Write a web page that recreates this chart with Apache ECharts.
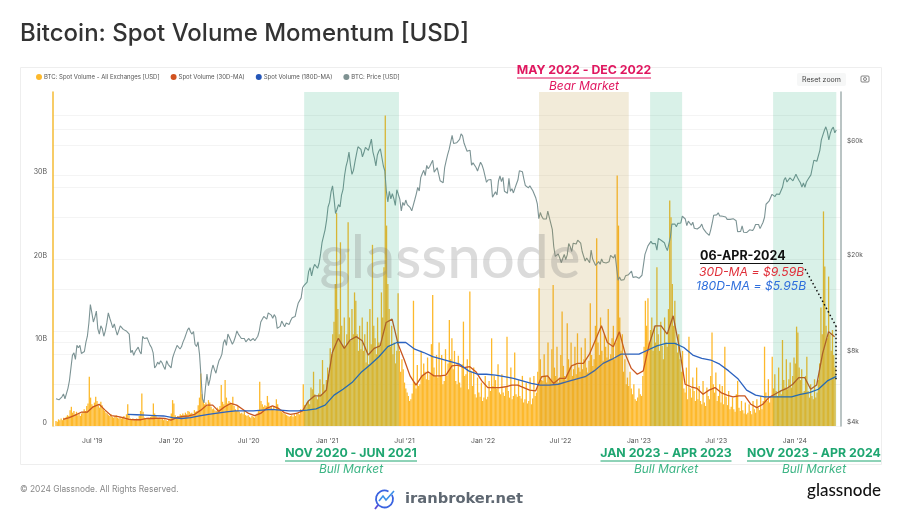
<!DOCTYPE html>
<html>
<head>
<meta charset="utf-8">
<title>Bitcoin: Spot Volume Momentum [USD]</title>
<script src="https://cdn.jsdelivr.net/npm/echarts@6/dist/echarts.min.js"></script>
<style>
  html, body { margin: 0; padding: 0; background: #fff; }
  #chart { width: 900px; height: 518px; }
</style>
</head>
<body>
<div id="chart"></div>
<script>
// every 3 days from 2019-04-07, in billions of USD
const spotVolume = [
  .6,.5,.8,.7,.9,.7,1.0,.9,1.1,1.3,1.2,1.9,2.3,1.6,1.8,1.4,1.7,1.3,1.5,1.2,
  1.5,1.7,2.0,1.8,2.4,2.7,5.9,3.4,2.6,2.4,2.8,3.5,3.0,2.5,2.2,2.9,2.5,2.0,1.8,1.6,
  1.5,1.3,1.2,1.4,1.1,1.0,1.2,1.3,1.0,.9,1.1,.9,1.0,1.2,.8,1.4,2.6,1.3,.9,.8,
  .9,.8,.7,.9,.8,1.2,1.8,3.9,1.7,1.0,.9,.8,1.0,.9,1.1,1.3,2.7,1.5,1.2,1.0,
  .9,1.0,.8,.9,.7,.8,.7,.6,.8,.9,1.5,3.1,2.7,1.3,1.0,1.2,1.1,1.4,1.3,1.5,
  1.3,1.6,1.4,1.8,1.7,1.5,1.6,1.4,1.9,1.7,1.8,2.5,3.4,6.3,3.8,3.0,2.6,2.8,2.4,3.1,
  2.8,2.3,2.0,2.1,1.9,1.8,2.2,2.0,2.4,4.9,2.9,2.6,5.5,3.4,2.7,3.0,2.8,2.6,3.5,2.4,
  2.0,1.8,2.3,1.7,1.5,1.6,1.4,1.9,1.3,1.2,1.3,1.1,1.0,1.2,1.1,1.0,1.3,1.5,1.9,5.3,
  3.0,2.6,2.3,2.5,2.4,3.6,2.8,2.2,2.4,2.0,2.3,1.9,3.2,2.6,2.1,1.8,1.7,1.6,1.5,1.4,
  1.3,1.2,1.1,1.2,1.3,1.1,1.4,1.2,1.6,1.5,1.4,2.0,1.8,5.0,2.5,2.3,2.8,3.0,2.6,4.6,
  4.4,6.5,3.8,3.5,3.2,3.9,5.6,3.8,7.9,5.0,4.3,5.5,7.0,6.2,9.3,8.6,11,12.5,17.0,25.5,
  14,11,22,12,9.6,13,9.5,11,24.4,13,10.2,14,11,16,15,11,9,12,9.2,13,
  9.0,11,7.6,12.5,7.4,14,9.8,21.7,12,10.5,8.6,13,10,9.5,16,13,19,37.2,24,17,
  14,9.5,12,8.6,10,7.5,9,15.9,9,6.5,8.0,6.8,5.2,4.5,4.0,3.6,3.0,3.2,3.9,15.0,
  5.2,4.5,7.3,4.8,5.0,9.0,6.0,7.5,6.5,5.6,8.2,5.5,6.2,9.8,15.7,7.0,6.0,8.5,5.8,10.0,
  6.0,8.5,5.0,5.4,9.2,6.0,7.5,12.7,8.0,10.5,6.8,9,5.4,5.0,8.4,5.2,4.6,7.4,12.5,6.0,
  6.2,8.0,4.4,16.1,6.5,4.8,7.0,3.8,3.4,5.8,4.0,3.5,5.2,3.0,3.4,6.0,3.2,3.5,5.4,4.2,
  10.5,4.8,6.0,5.5,4.5,7.4,4.0,3.8,6.2,4.0,3.6,4.6,10.7,4.2,3.4,7.0,3.2,3.6,8.8,3.8,
  3.5,5.5,3.6,3.3,6.0,2.8,3.2,5.2,2.7,3.0,5.8,2.6,3.3,6.0,3.6,4.0,6.5,16.5,8.0,5.5,
  5.4,8.6,6.0,5.2,10,5.8,5.5,9.2,16.9,7.0,6.0,9.5,5.2,5.8,8.5,13.7,7.2,6.0,5.5,12.3,
  8.0,7.0,10,6.0,6.8,9.5,6.2,11.1,7.0,6.5,9.4,6.8,8.0,10.5,7.0,6.4,7.8,14.7,8.5,7.2,
  8.0,12,22.5,10.0,8.5,13,9.0,7.8,11,9.5,8.2,14,8.0,8.6,10.5,12,8.0,10.0,30.0,24.0,
  13,9,11,6.5,8,5.0,5.8,4.8,6.5,4.5,3.8,5,3.2,3.0,3.4,4.5,3.8,3.6,6.0,9.5,
  15,12,15.3,10,11.5,13,9.0,12,10,19,11,9,12.5,9.6,8,13,10,9.5,14,27,
  25,17,12,15,10,8.8,11,8,6.5,9,4.5,4.0,7,3.2,10.7,4.5,3.4,5.8,4.2,3.0,
  7.0,3.2,4.8,3.0,2.6,5.4,2.8,2.4,4.6,3.6,3.2,6.0,11.2,5.0,4.0,6.4,3.0,3.6,5.0,2.8,
  4.8,2.6,9.5,3.5,2.5,4.2,2.0,2.3,3.4,2.0,1.7,3.8,5.4,2.2,1.8,3.0,1.9,1.5,2.8,1.4,
  1.6,2.6,1.8,1.4,3.0,2.0,1.6,3.2,2.2,1.9,3.6,2.0,3.0,9.5,4.0,3.0,5.6,2.8,3.6,8.3,
  4.5,6.2,4.2,3.6,7.0,4.2,3.8,10.3,5.5,4.6,8.0,4.4,5.6,7.6,4.6,6.0,8.2,7.5,11.9,11.2,
  7.0,5.5,6.8,4.0,4.2,6.0,8.3,4.2,3.4,5.0,3.6,3.2,5.6,3.4,4.0,5.5,7.5,14.2,11,25.7,
  19.1,12,10.5,17.9,11,9,11.5,8.5,7.0
];

// every 14 days from 2019-04-24, in billions of USD
const ma30 = [
  .8,1.0,1.3,1.65,1.65,2.3,2.6,1.9,1.25,1.15,1.0,.8,.75,.75,.9,.9,.95,.9,.7,1.0,
  1.15,1.2,1.4,1.9,2.5,2.5,1.75,2.3,2.7,2.5,2.0,1.5,1.25,1.5,2.1,2.4,2.1,1.6,1.4,1.5,
  1.8,3.0,3.6,3.6,4.3,8.8,10.5,9.3,10.3,10.7,10.2,8.5,9.3,9.6,12.4,12.8,9.8,8.0,6.0,4.9,
  6.0,6.5,6.0,6.0,6.1,7.2,7.3,7.0,7.1,6.5,5.4,4.6,4.6,4.6,4.7,4.9,4.9,4.6,4.3,4.2,
  5.9,6.0,5.1,5.7,5.7,7.2,7.5,7.5,8.6,10.3,12.0,10.0,9.5,11.3,8.6,6.9,6.2,6.6,9.8,12.0,
  12.0,11.0,13.2,9.5,5.0,4.7,4.5,3.8,4.3,4.6,4.0,3.7,3.5,3.6,3.6,2.6,2.2,2.6,3.4,3.8,
  4.2,4.5,5.0,5.8,5.8,4.4,4.9,8.7,11.3,10.7
];

// every 21 days from 2019-09-22, in billions of USD
const ma180 = [
  1.4,1.35,1.3,1.25,1.2,1.0,.9,1.0,1.2,1.4,1.55,1.7,1.8,1.8,1.8,1.9,2.0,1.9,1.8,1.8,
  1.9,2.05,2.5,3.7,4.4,5.2,6.4,7.3,8.3,9.5,10.0,10.0,9.2,8.8,8.3,8.0,7.7,7.4,6.6,6.2,
  6.2,6.1,5.9,5.7,5.4,5.1,4.9,4.9,5.0,5.3,5.6,5.9,6.6,7.5,8.0,8.6,8.6,8.6,9.1,9.6,
  9.9,9.9,9.4,8.5,8.1,7.9,7.4,6.6,5.7,4.3,3.7,3.5,3.5,3.5,3.5,3.8,4.0,4.4,5.4,5.95
];

// every 3.5 days from 2019-04-07, in USD
const btcPrice = [
  5200,5280,5150,5080,5300,5450,5200,5130,5750,6200,7000,7900,8100,7600,8700,8500,8700,8050,7900,8200,
  8950,9500,10800,12900,11900,10900,11400,12100,10200,9700,10500,10200,9500,10000,10800,11900,11300,10800,10300,10700,
  10100,9600,9700,10500,10300,10150,10300,10000,10000,9700,8100,8300,7900,8200,8300,8550,8200,8000,9500,9300,
  9200,9350,9000,8700,8500,8100,7000,7150,7400,7250,7500,7350,7100,6900,7500,7250,7300,7000,7700,8050,
  8200,8700,8700,8400,8600,9000,9300,9700,10100,10300,9900,9700,9950,8800,8600,9000,8000,7900,5200,5000,
  5800,6600,5900,6250,6800,7200,6900,6650,7100,7500,7700,8000,8900,9200,8700,9700,9600,9100,8800,9050,
  9450,10000,9700,9500,9300,9450,9300,9000,9100,9300,9100,9250,9300,9100,9200,9500,10000,10900,11100,11500,
  11700,11200,11900,12100,11650,11300,11700,11400,10250,10200,10450,11000,10800,10400,10800,10700,10650,11050,11350,11400,
  11500,12300,13050,13300,13750,15200,15500,15700,16000,17700,18400,17000,18200,19000,19100,18300,19200,21000,23500,23200,
  26500,29000,33000,34500,38200,40500,35800,31000,32300,33800,33000,37000,39000,44500,48700,51500,56000,49500,45200,47000,
  51000,55000,59000,58200,57500,53500,55800,58700,58700,57000,60000,63500,56200,53000,49100,54500,56600,57800,58300,49000,
  46700,38500,34700,38400,35700,37500,35800,33500,39000,38500,35600,31800,34500,33500,35300,33800,34200,32800,31800,31600,
  35400,37400,39900,38500,43800,45500,47000,44700,49300,47700,48800,49300,51800,46200,46000,48200,47300,42500,43200,41700,
  48200,51500,54700,57500,61500,65800,60900,60500,61300,62000,63300,66800,65500,61000,58700,56500,57300,57000,49400,50500,
  50000,48300,46700,48800,50800,49500,47300,46500,41900,42800,43100,43000,36300,36800,38200,37100,42400,44500,42200,43900,
  38400,39000,37700,43500,38400,39400,37800,39500,41200,42800,46800,47300,46400,43200,40600,40200,39700,40500,39500,38600,
  38500,36000,34000,29500,31300,30100,29400,29700,29400,31700,29900,30200,26600,22500,20500,20300,21000,20200,19300,20100,
  20900,19900,20800,23200,22500,21500,23300,23000,23100,24000,24300,23300,21500,21400,19600,20200,19900,19300,21800,20000,
  19400,18800,18800,19500,19000,20000,19400,19100,19250,19050,19500,20700,20600,20200,20900,18500,16300,16800,16300,16200,
  16400,17000,17100,17200,17100,17800,16750,16800,16850,16600,16600,16800,17100,18900,20900,21000,22700,23000,23700,23200,
  22900,23200,21800,24400,24600,23900,23500,23400,22400,21700,22100,24700,28000,27500,28000,27300,28200,28000,28300,30200,
  30300,29400,27600,28800,29200,27700,28500,26900,26900,26700,26800,27300,28000,26800,27200,25800,25900,25100,26500,28300,
  30500,30100,30600,31200,30300,30500,30200,29900,30000,29300,29300,29300,29000,29500,29300,28900,26000,26100,26100,27500,
  25900,25800,25800,25900,26500,26500,26300,26900,27900,27700,27900,26800,27100,28500,29900,33900,34500,34900,35000,37300,
  37000,36500,37400,37700,37300,38600,39900,42800,43800,42000,41400,43700,43000,42500,42200,45300,43900,42700,41700,40000,
  41600,39900,42000,43000,42600,45000,48300,51800,52100,51300,51700,57000,63000,66000,69000,71500,68300,63000,67200,69900,
  71300,67500,69300
];

const volumeTicks = [0, 10, 20, 30];
const priceLabels = [4000, 8000, 20000, 60000];
const priceLines = [4000, 6000, 8000, 10000, 15000, 20000, 30000, 40000, 60000, 70000, 80000];
const dateLabels = ['2019-07-01', '2020-01-01', '2020-07-01', '2021-01-01', '2021-07-01', '2022-01-01', '2022-07-01', '2023-01-01', '2023-07-01', '2024-01-01'];
const bullBands = [['2020-11-08', '2021-06-18'], ['2023-01-27', '2023-04-12'], ['2023-11-11', '2024-04-07']];
const bearBands = [['2022-05-12', '2022-12-08']];

const DAY = 86400000;
const MONTHS = ['Jan', 'Feb', 'Mar', 'Apr', 'May', 'Jun', 'Jul', 'Aug', 'Sep', 'Oct', 'Nov', 'Dec'];

function ts(s) { return new Date(s + 'T00:00:00Z').getTime(); }
function onDates(start, stepDays, values) {
  return values.map((v, i) => [ts(start) + i * stepDays * DAY, v]);
}

const FONT = 'Inter';
const GREEN = '#1fa671';
const GREEN_SOFT = '#3db585';
const PINK = '#e0175f';

function label(text, x, y, style) {
  return { type: 'text', x: x, y: y, z: 30, silent: true,
    style: Object.assign({ text: text, fontFamily: FONT, verticalAlign: 'middle' }, style) };
}
function rule(x1, x2, y, color, w) {
  return { type: 'line', z: 30, silent: true, shape: { x1: x1, y1: y, x2: x2, y2: y }, style: { stroke: color, lineWidth: w } };
}
function period(range, kind, cx, y, color, soft, w) {
  return [
    label(range, cx, y, { fill: color, fontSize: 12.3, fontWeight: 700, align: 'center' }),
    rule(cx - w / 2, cx + w / 2, y + 7.5, color, 1),
    label(kind, cx, y + 15.5, { fill: soft, fontSize: 12, fontStyle: 'italic', align: 'center' })
  ];
}

const chart = echarts.init(document.getElementById('chart'));

chart.setOption({
  animation: false,
  textStyle: { fontFamily: FONT },
  legend: {
    left: 31, top: 69, icon: 'circle', itemWidth: 6, itemHeight: 6, itemGap: 11,
    textStyle: { fontSize: 6, color: '#555', padding: [0, 0, 0, -3] },
    data: ['BTC: Spot Volume - All Exchanges [USD]', 'Spot Volume (30D-MA)', 'Spot Volume (180D-MA)', 'BTC: Price [USD]']
  },
  grid: { left: 53, right: 59, top: 92, bottom: 92 },
  // dates kept as UTC timestamps on a plain value axis so the half-year labels can be set exactly
  xAxis: {
    type: 'value',
    min: ts('2019-03-31'),
    max: ts('2024-04-18'),
    axisLine: { show: false },
    axisTick: { show: false },
    splitLine: { show: false },
    axisLabel: {
      customValues: dateLabels.map(ts),
      margin: 11, fontSize: 6.8, color: '#555',
      formatter: function (v) {
        const d = new Date(v);
        return MONTHS[d.getUTCMonth()] + " '" + String(d.getUTCFullYear()).slice(2);
      }
    }
  },
  yAxis: [
    {
      type: 'value', min: 0, max: 40, position: 'left',
      axisLine: { show: true, lineStyle: { color: '#f4bb35', width: 1.5 } },
      axisTick: { show: false, customValues: volumeTicks },
      splitLine: { lineStyle: { color: '#f4f4f4', width: 1 } },
      axisLabel: {
        customValues: volumeTicks, margin: 6, fontSize: 7, color: '#555', verticalAlign: 'bottom',
        formatter: function (v) { return v === 0 ? '0' : v + 'B'; }
      }
    },
    {
      type: 'log', min: 4000, max: 100000, position: 'right',
      axisLine: { show: true, lineStyle: { color: '#a3b0b0', width: 1.5 } },
      axisTick: { show: false, customValues: priceLines },
      splitLine: { show: true, lineStyle: { color: '#f4f4f4', width: 1 } },
      axisLabel: {
        customValues: priceLabels, margin: 6, fontSize: 6.5, color: '#555', verticalAlign: 'bottom',
        formatter: function (v) { return '$' + Math.round(v / 1000) + 'k'; }
      }
    }
  ],
  series: [
    {
      name: 'BTC: Spot Volume - All Exchanges [USD]', type: 'bar', yAxisIndex: 0, z: 2,
      barWidth: 1.3, itemStyle: { color: '#fdb92c' },
      data: onDates('2019-04-07', 3, spotVolume)
    },
    {
      name: 'Spot Volume (30D-MA)', type: 'line', yAxisIndex: 0, z: 4, showSymbol: false,
      lineStyle: { color: '#c9551f', width: 1.3 }, itemStyle: { color: '#d1521f' },
      data: onDates('2019-04-24', 14, ma30)
    },
    {
      name: 'Spot Volume (180D-MA)', type: 'line', yAxisIndex: 0, z: 4, showSymbol: false,
      lineStyle: { color: '#2b62c0', width: 1.3 }, itemStyle: { color: '#2456b8' },
      data: onDates('2019-09-22', 21, ma180)
    },
    {
      name: 'BTC: Price [USD]', type: 'line', yAxisIndex: 1, z: 4, showSymbol: false,
      lineStyle: { color: '#7c9394', width: 1.1 }, itemStyle: { color: '#7f9292' },
      data: onDates('2019-04-07', 3.5, btcPrice)
    },
    {
      name: 'bands', type: 'line', yAxisIndex: 0, z: 6, showSymbol: false, data: [],
      markArea: {
        silent: true, z: 6,
        data: bullBands.map(b => [
          { xAxis: ts(b[0]), itemStyle: { color: 'rgba(0,162,101,0.15)' } }, { xAxis: ts(b[1]) }
        ]).concat(bearBands.map(b => [
          { xAxis: ts(b[0]), itemStyle: { color: 'rgba(178,137,31,0.17)' } }, { xAxis: ts(b[1]) }
        ]))
      },
      markLine: {
        silent: true, symbol: 'none', z: 8, label: { show: false },
        lineStyle: { color: '#111', type: [1.5, 2.5], width: 1.5 },
        data: [
          [{ coord: [ts('2024-01-25'), 18.8] }, { coord: [ts('2024-04-06'), 12] }],
          [{ coord: [ts('2024-04-06'), 12] }, { coord: [ts('2024-04-06'), 5.5] }]
        ]
      }
    }
  ],
  graphic: [
    { type: 'rect', z: 0, silent: true, shape: { x: 20.5, y: 67.5, width: 861, height: 397 }, style: { fill: 'none', stroke: '#eeeeee', lineWidth: 1 } },
    label('Bitcoin: Spot Volume Momentum [USD]', 20, 34, { fill: '#333', fontSize: 24, fontWeight: 500 }),
    label('glassnode', 450, 259, { fill: 'rgba(125,125,125,0.28)', fontFamily: 'Lato', fontSize: 60, fontWeight: 500, align: 'center' }),

    { type: 'rect', z: 30, silent: true, shape: { x: 797, y: 73, width: 49, height: 13, r: 2 }, style: { fill: '#f6f7f7' } },
    label('Reset zoom', 821.5, 79.5, { fill: '#444', fontSize: 7, align: 'center' }),
    { type: 'rect', z: 30, silent: true, shape: { x: 861, y: 76, width: 8, height: 6, r: 1 }, style: { fill: 'none', stroke: '#666', lineWidth: 0.8 } },
    { type: 'circle', z: 30, silent: true, shape: { cx: 865, cy: 79, r: 1.5 }, style: { fill: 'none', stroke: '#666', lineWidth: 0.8 } }
  ].concat(
    period('MAY 2022 - DEC 2022', 'Bear Market', 584, 70.5, PINK, PINK, 134),
    period('NOV 2020 - JUN 2021', 'Bull Market', 351, 453.5, GREEN, GREEN_SOFT, 132),
    period('JAN 2023 - APR 2023', 'Bull Market', 666, 453.5, GREEN, GREEN_SOFT, 131),
    period('NOV 2023 - APR 2024', 'Bull Market', 814, 453.5, GREEN, GREEN_SOFT, 134),
    [
      label('06-APR-2024', 700, 256, { fill: '#111', fontSize: 12.5, fontWeight: 700 }),
      rule(700, 803, 263.5, '#111', 1),
      label('30D-MA = $9.59B', 699, 272, { fill: '#e0303a', fontSize: 12.2, fontStyle: 'italic' }),
      label('180D-MA = $5.95B', 696, 286, { fill: '#2f6fdc', fontSize: 12.2, fontStyle: 'italic' }),

      label('\u00a9 2024 Glassnode. All Rights Reserved.', 20, 489, { fill: '#888', fontSize: 8.4 }),
      label('glassnode', 881, 491, { fill: '#111', fontFamily: 'Lato', fontSize: 17, fontWeight: 500, align: 'right' }),
      label('iranbroker.net', 405, 499.5, { fill: '#5f6872', fontFamily: 'DejaVu Sans', fontSize: 14.7, fontWeight: 700 }),

      { type: 'arc', z: 30, silent: true, shape: { cx: 384.5, cy: 499, r: 8.5, startAngle: -0.5, endAngle: 5.2 }, style: { fill: 'none', stroke: '#3a63e0', lineWidth: 1.8 } },
      { type: 'polyline', z: 30, silent: true, shape: { points: [[379, 501], [383, 496], [386, 500], [394, 491]] }, style: { fill: 'none', stroke: '#3a8fe8', lineWidth: 1.6 } },
      { type: 'line', z: 30, silent: true, shape: { x1: 378, y1: 505, x2: 375, y2: 509 }, style: { stroke: '#5a4fd8', lineWidth: 1.8 } }
    ]
  )
});
</script>
</body>
</html>
